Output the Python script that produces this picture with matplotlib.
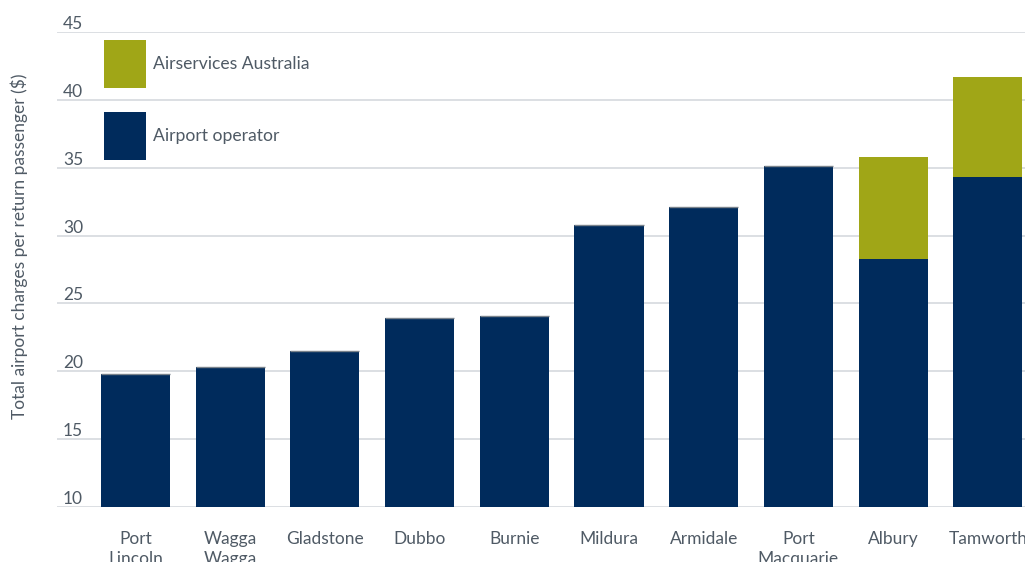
import numpy as np
import matplotlib
matplotlib.use("Agg")
import matplotlib.pyplot as plt

plt.rcParams["font.family"] = ["Lato", "DejaVu Sans"]

# 数据
airports = ["Port\nLincoln", "Wagga\nWagga", "Gladstone", "Dubbo", "Burnie",
            "Mildura", "Armidale", "Port\nMacquarie", "Albury", "Tamworth"]
operator = [19.8, 20.3, 21.5, 23.9, 24.1, 30.8, 32.1, 35.1, 28.3, 34.3]
airservices = [0, 0, 0, 0, 0, 0, 0, 0, 7.5, 7.4]
yticks = [10, 15, 20, 25, 30, 35, 40, 45]

navy = "#002b5c"
olive = "#a0a617"
grey_txt = "#4f5a65"

fig = plt.figure(figsize=(10.25, 5.62), dpi=100)
ax = fig.add_axes([57 / 1025, 1 - 507 / 562, 1 - 57 / 1025, (507 - 32) / 562])

x = np.arange(len(airports))
w = 0.73
ax.bar(x, operator, width=w, color=navy, label="Airport operator", zorder=2)
ax.bar(x, airservices, width=w, bottom=operator, color=olive,
       label="Airservices Australia", zorder=2)

# 顶部细灰线（无 Airservices 部分的柱子）
ops = np.array(operator)
zero = np.array(airservices) == 0
ax.hlines(ops[zero], x[zero] - w / 2, x[zero] + w / 2, color="#7a838c", linewidth=1, zorder=3)

ax.set_ylim(10, 45)
ax.set_xlim(-0.829, 9.393)
ax.set_yticks(yticks)
ax.yaxis.grid(True, color="#d5d9de", linewidth=1.2, zorder=0)
ax.set_axisbelow(True)
for s in ax.spines.values():
    s.set_visible(False)

# y 刻度标签放在网格线上方
ax.set_yticklabels([])
ax.tick_params(axis="y", length=0)
trans = matplotlib.transforms.blended_transform_factory(fig.transFigure, ax.transData)
for t in yticks:
    ax.text(63 / 1025, t, str(t), transform=trans, ha="left", va="bottom",
            fontsize=12.5, color=grey_txt)

ax.set_xticks(x)
ax.set_xticklabels(airports, fontsize=12.5, color=grey_txt, va="top", linespacing=1.35)
ax.tick_params(axis="x", length=0, pad=17)

fig.text(19 / 1025, 1 - 246 / 562, "Total airport charges per return passenger ($)",
         rotation=90, ha="center", va="center", fontsize=12.5, color=grey_txt)

handles, labels = ax.get_legend_handles_labels()
leg = ax.legend(handles[::-1], labels[::-1], loc="upper left",
                bbox_to_anchor=(104 / 1025, 1 - 40 / 562), bbox_transform=fig.transFigure,
                frameon=False, fontsize=12.6, handlelength=2.4, handleheight=3.85,
                labelspacing=1.37, handletextpad=0.4, borderpad=0, borderaxespad=0)
for t in leg.get_texts():
    t.set_color(grey_txt)

fig.savefig("out.png", dpi=100)
